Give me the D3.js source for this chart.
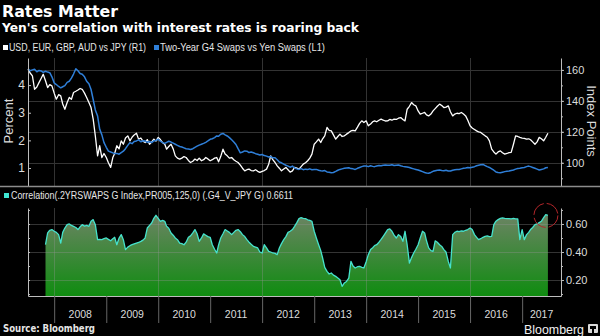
<!DOCTYPE html>
<html>
<head>
<meta charset="utf-8">
<script src="https://cdn.jsdelivr.net/npm/d3@7"></script>
<style>
  html, body { margin: 0; padding: 0; background: #000; }
  svg { display: block; }
</style>
</head>
<body>
<div id="chart"></div>
<script>
// observations are semi-monthly (1st and 16th), first one on 1 Jul 2007
const firstObs = [2007, 6]

// Two-Year G4 Swaps vs Yen Swaps, percent (L1)
const swapSpread = [
  4.59, 4.52, 4.55, 4.57, 4.48, 4.53, 4.51, 4.46, 4.50, 4.47,
  4.45, 4.30, 4.08, 4.02, 3.95, 3.90, 3.94, 3.98, 4.10, 4.14,
  4.25, 4.40, 4.59, 4.52, 4.42, 4.39, 4.30, 4.14, 4.05, 3.84,
  3.48, 3.10, 2.88, 2.40, 2.20, 1.92, 1.75, 1.61, 1.58, 1.55,
  1.52, 1.53, 1.50, 1.56, 1.61, 1.70, 1.82, 1.92, 1.88, 1.96,
  1.98, 2.02, 1.95, 1.99, 1.98, 1.93, 1.96, 1.92, 1.98, 2.00,
  2.04, 1.97, 1.92, 1.89, 1.93, 1.97, 1.94, 1.90, 1.86, 1.82,
  1.78, 1.76, 1.73, 1.70, 1.69, 1.67, 1.70, 1.75, 1.79, 1.83,
  1.86, 1.89, 1.93, 1.98, 2.04, 2.06, 2.10, 2.16, 2.15, 2.22,
  2.25, 2.20, 2.16, 2.10, 2.02, 1.94, 1.85, 1.70, 1.55, 1.58,
  1.62, 1.61, 1.56, 1.58, 1.55, 1.52, 1.50, 1.47, 1.49, 1.45,
  1.43, 1.40, 1.42, 1.37, 1.37, 1.30, 1.22, 1.19, 1.14, 1.10,
  1.07, 1.03, 1.07, 1.00, 0.97, 0.95, 0.98, 0.94, 0.96, 0.95,
  0.97, 0.94, 0.95, 0.95, 0.92, 0.90, 0.89, 0.91, 0.86, 0.85,
  0.83, 0.84, 0.88, 0.92, 0.95, 0.97, 0.99, 1.00, 1.01, 0.98,
  0.97, 0.95, 0.99, 1.02, 1.05, 1.07, 1.07, 1.05, 1.08, 1.06,
  1.05, 1.07, 1.09, 1.08, 1.10, 1.11, 1.10, 1.10, 1.12, 1.09,
  1.10, 1.11, 1.08, 1.06, 1.05, 1.04, 1.02, 0.99, 0.97, 0.95,
  0.93, 0.90, 0.87, 0.84, 0.82, 0.81, 0.84, 0.88, 0.90, 0.92,
  0.93, 0.91, 0.90, 0.92, 0.89, 0.89, 0.92, 0.94, 0.95, 0.95,
  0.97, 0.99, 1.00, 1.02, 1.01, 1.03, 1.05, 1.08, 1.10, 1.12,
  1.13, 1.09, 1.05, 1.02, 0.97, 0.92, 0.86, 0.84, 0.83, 0.85,
  0.87, 0.88, 0.89, 0.91, 0.93, 0.96, 0.98, 0.99, 1.01, 1.02,
  1.05, 1.07, 1.05, 1.02, 0.99, 0.96, 0.93, 0.95, 0.97, 1.01, 1.02
]

// USD, EUR, GBP, AUD vs JPY, index points (R1)
const yenBasket = [
  160.4, 158.0, 156.1, 147.5, 149.0, 151.8, 154.5, 157.2, 153.0, 148.6,
  150.5, 149.7, 145.0, 141.1, 144.0, 143.2, 138.0, 134.6, 139.0, 142.2,
  141.0, 145.4, 146.2, 147.0, 148.0, 147.5, 145.0, 142.2, 139.0, 135.7,
  128.2, 117.4, 104.5, 111.0, 103.4, 106.0, 103.4, 100.0, 97.0, 103.4,
  106.0, 111.0, 109.0, 114.2, 112.0, 116.0, 117.4, 114.2, 116.5, 118.0,
  119.1, 115.3, 116.0, 114.0, 113.1, 115.0, 112.0, 113.5, 115.3, 114.0,
  116.4, 115.0, 113.0, 112.0, 108.8, 110.5, 112.0, 109.0, 104.5, 103.0,
  102.4, 103.0, 104.0, 103.4, 101.5, 100.2, 101.0, 102.4, 101.5, 103.0,
  101.3, 102.0, 103.4, 102.5, 101.3, 102.0, 103.0, 103.4, 100.6, 104.0,
  108.8, 105.6, 104.5, 103.0, 103.4, 102.0, 101.0, 100.2, 98.5, 96.5,
  94.8, 95.5, 95.9, 95.0, 94.8, 95.5, 94.5, 93.8, 94.5, 95.0,
  95.9, 99.0, 104.5, 102.0, 100.2, 98.0, 96.5, 94.8, 96.0, 97.0,
  95.5, 94.0, 94.8, 97.0, 96.5, 95.9, 97.5, 99.1, 100.0, 101.3,
  103.0, 105.6, 112.0, 113.5, 115.3, 113.1, 115.5, 117.4, 122.8, 121.0,
  120.6, 118.0, 115.3, 117.0, 118.5, 117.0, 117.4, 118.5, 119.5, 120.6,
  121.0, 120.6, 123.0, 125.5, 127.1, 126.0, 127.1, 123.9, 125.0, 126.5,
  127.1, 126.5, 127.5, 128.2, 127.5, 127.0, 127.1, 128.0, 127.5, 128.2,
  128.0, 128.8, 129.2, 128.0, 127.1, 134.6, 136.5, 138.9, 137.5, 136.8,
  133.5, 131.4, 132.0, 132.5, 131.0, 130.3, 131.5, 133.5, 135.0, 136.5,
  137.9, 137.0, 135.7, 136.0, 136.8, 133.0, 130.3, 131.5, 132.0, 131.8,
  132.5, 131.5, 130.3, 127.5, 123.9, 122.5, 121.5, 120.6, 120.0, 119.6,
  118.5, 117.4, 116.5, 114.2, 108.8, 107.0, 105.6, 107.0, 107.7, 106.5,
  105.6, 106.0, 106.5, 106.7, 112.0, 117.4, 117.0, 116.4, 116.0, 115.8,
  115.3, 115.5, 114.9, 113.5, 112.0, 113.5, 116.4, 115.5, 114.2, 116.5, 119.1
]

// 125-day correlation, first full window at observation 8 (Nov 2007)
const correlStart = 8
const correlation = [
  0.452, 0.536,
  0.555, 0.560, 0.548, 0.540, 0.524, 0.464, 0.540, 0.571, 0.595, 0.600,
  0.590, 0.583, 0.575, 0.560, 0.580, 0.595, 0.585, 0.590, 0.583, 0.619,
  0.631, 0.595, 0.488, 0.490, 0.488, 0.495, 0.500, 0.490, 0.480, 0.495,
  0.505, 0.452, 0.500, 0.524, 0.488, 0.417, 0.435, 0.445, 0.452, 0.458,
  0.464, 0.468, 0.476, 0.485, 0.500, 0.571, 0.590, 0.607, 0.640, 0.662,
  0.640, 0.619, 0.625, 0.619, 0.583, 0.570, 0.536, 0.520, 0.500, 0.488,
  0.464, 0.460, 0.452, 0.470, 0.505, 0.515, 0.536, 0.560, 0.530, 0.476,
  0.500, 0.529, 0.520, 0.510, 0.505, 0.452, 0.420, 0.393, 0.450, 0.500,
  0.530, 0.560, 0.550, 0.540, 0.524, 0.540, 0.555, 0.560, 0.545, 0.524,
  0.510, 0.488, 0.470, 0.455, 0.440, 0.435, 0.429, 0.400, 0.393, 0.452,
  0.430, 0.405, 0.400, 0.393, 0.390, 0.381, 0.429, 0.460, 0.488, 0.510,
  0.540, 0.548, 0.560, 0.583, 0.610, 0.638, 0.645, 0.640, 0.638, 0.630,
  0.625, 0.619, 0.548, 0.500, 0.452, 0.410, 0.357, 0.290, 0.262, 0.243,
  0.250, 0.235, 0.226, 0.215, 0.202, 0.155, 0.179, 0.190, 0.214, 0.333,
  0.300, 0.286, 0.295, 0.298, 0.290, 0.286, 0.330, 0.381, 0.417, 0.430,
  0.445, 0.452, 0.470, 0.490, 0.512, 0.535, 0.560, 0.565, 0.548, 0.520,
  0.500, 0.524, 0.510, 0.476, 0.548, 0.452, 0.321, 0.360, 0.393, 0.420,
  0.452, 0.500, 0.548, 0.536, 0.480, 0.429, 0.410, 0.405, 0.480, 0.470,
  0.452, 0.440, 0.417, 0.400, 0.333, 0.286, 0.524, 0.540, 0.548, 0.545,
  0.550, 0.548, 0.555, 0.560, 0.571, 0.560, 0.524, 0.505, 0.488, 0.495,
  0.505, 0.512, 0.515, 0.510, 0.512, 0.595, 0.620, 0.631, 0.640, 0.643,
  0.640, 0.638, 0.638, 0.636, 0.640, 0.636, 0.636, 0.488, 0.560, 0.488,
  0.524, 0.540, 0.560, 0.575, 0.595, 0.600, 0.610, 0.619, 0.645, 0.667, 0.6611
]

const yearLabels = ['2008', '2009', '2010', '2011', '2012', '2013', '2014', '2015', '2016', '2017']
const percentTicks = [1, 2, 3, 4]
const indexTicks = [100, 120, 140, 160]
const correlTicks = [0.2, 0.4, 0.6]

const width = 600
const height = 336
const plot = { left: 28, right: 561 }
const upper = { y0: 58, y1: 186 }
const lower = { y0: 208, y1: 296 }

const obsDate = (i) =>
  new Date(Date.UTC(firstObs[0], firstObs[1] + Math.floor(i / 2), i % 2 ? 16 : 1))

const spreadData = swapSpread.map((v, i) => ({ date: obsDate(i), value: v }))
const basketData = yenBasket.map((v, i) => ({ date: obsDate(i), value: v }))
const correlData = correlation.map((v, i) => ({ date: obsDate(i + correlStart), value: v }))

const svg = d3
  .select('#chart')
  .append('svg')
  .attr('width', width)
  .attr('height', height)
  .style('background', '#000')

const sans = "'Liberation Sans', Arial, sans-serif"
const heavy = "'DejaVu Sans', Verdana, sans-serif"

const xScale = d3
  .scaleUtc()
  .domain([new Date(Date.UTC(2007, 6, 1)), new Date(Date.UTC(2017, 9, 1))])
  .range([plot.left, plot.right])

const yPct = d3.scaleLinear().domain([0.35, 4.98]).range([upper.y1, upper.y0])
const yIdx = d3.scaleLinear().domain([85, 167.7]).range([upper.y1, upper.y0])
const yCor = d3.scaleLinear().domain([0.086, 0.714]).range([lower.y1, lower.y0])

const gridYears = d3.utcYear.every(2).range(new Date(Date.UTC(2008, 0, 1)), new Date(Date.UTC(2017, 0, 1)))

// ---- header ----
svg.append('text')
  .attr('x', 2).attr('y', 17)
  .attr('fill', '#fff')
  .attr('font-family', heavy).attr('font-weight', 'bold').attr('font-size', 16)
  .attr('textLength', 116).attr('lengthAdjust', 'spacingAndGlyphs')
  .text('Rates Matter')

svg.append('text')
  .attr('x', 2).attr('y', 32)
  .attr('fill', '#fff')
  .attr('font-family', heavy).attr('font-weight', 'bold').attr('font-size', 12.5)
  .attr('textLength', 357).attr('lengthAdjust', 'spacingAndGlyphs')
  .text("Yen's correlation with interest rates is roaring back")

const legend = [
  { color: '#ffffff', x: 3, label: 'USD, EUR, GBP, AUD vs JPY (R1)', len: 137 },
  { color: '#2f7fd8', x: 154, label: 'Two-Year G4 Swaps vs Yen Swaps (L1)', len: 165 }
]
const legendG = svg.append('g')
legendG.selectAll('rect')
  .data(legend)
  .join('rect')
  .attr('x', (d) => d.x).attr('y', 45)
  .attr('width', 5).attr('height', 5)
  .attr('fill', (d) => d.color)
legendG.selectAll('text')
  .data(legend)
  .join('text')
  .attr('x', (d) => d.x + 6).attr('y', 51)
  .attr('fill', '#e6e6e6')
  .attr('font-family', sans).attr('font-size', 10)
  .attr('textLength', (d) => d.len).attr('lengthAdjust', 'spacingAndGlyphs')
  .text((d) => d.label)

// ---- grid lines ----
const grid = svg.append('g').attr('stroke', '#333').attr('stroke-width', 1)
grid.selectAll('line.h')
  .data(indexTicks)
  .join('line')
  .attr('class', 'h')
  .attr('x1', plot.left).attr('x2', plot.right)
  .attr('y1', (d) => Math.round(yIdx(d)) + 0.5).attr('y2', (d) => Math.round(yIdx(d)) + 0.5)
grid.selectAll('line.v')
  .data(gridYears)
  .join('line')
  .attr('class', 'v')
  .attr('x1', (d) => Math.round(xScale(d)) + 0.5).attr('x2', (d) => Math.round(xScale(d)) + 0.5)
  .attr('y1', upper.y0).attr('y2', upper.y1)

// ---- top panel lines ----
const lineIdx = d3.line().x((d) => xScale(d.date)).y((d) => yIdx(d.value))
const linePct = d3.line().x((d) => xScale(d.date)).y((d) => yPct(d.value))

svg.append('path')
  .attr('d', lineIdx(basketData))
  .attr('fill', 'none')
  .attr('stroke', '#ffffff')
  .attr('stroke-width', 1.3)
  .attr('stroke-linejoin', 'round')

svg.append('path')
  .attr('d', linePct(spreadData))
  .attr('fill', 'none')
  .attr('stroke', '#2f7fd8')
  .attr('stroke-width', 1.5)
  .attr('stroke-linejoin', 'round')

// ---- top panel axes ----
function styleAxis(g, size) {
  g.attr('font-family', sans).attr('font-size', size)
  g.select('.domain').attr('stroke', '#bdbdbd')
  g.selectAll('.tick line').attr('stroke', '#bdbdbd')
  g.selectAll('.tick text').attr('fill', '#dcdcdc')
}

svg.append('g')
  .attr('transform', `translate(${plot.left}, 0)`)
  .call(d3.axisLeft(yPct).tickValues(percentTicks).tickFormat(d3.format('d'))
    .tickSizeInner(-3).tickSizeOuter(0).tickPadding(3))
  .call((g) => styleAxis(g, 12))

svg.append('g')
  .attr('transform', `translate(${plot.right}, 0)`)
  .call(d3.axisRight(yIdx).tickValues(d3.range(90, 170, 10)).tickFormat('')
    .tickSizeInner(2).tickSizeOuter(0))
  .call((g) => styleAxis(g, 11))

svg.append('g')
  .attr('transform', `translate(${plot.right}, 0)`)
  .call(d3.axisRight(yIdx).tickValues(indexTicks).tickSizeInner(3).tickSizeOuter(0).tickPadding(2))
  .call((g) => styleAxis(g, 11))
  .call((g) => g.select('.domain').remove())

svg.append('text')
  .attr('transform', 'translate(13, 121) rotate(-90)')
  .attr('text-anchor', 'middle')
  .attr('fill', '#dcdcdc')
  .attr('font-family', sans).attr('font-size', 13)
  .text('Percent')

svg.append('text')
  .attr('transform', 'translate(587, 121) rotate(90)')
  .attr('text-anchor', 'middle')
  .attr('fill', '#dcdcdc')
  .attr('font-family', sans).attr('font-size', 13)
  .text('Index Points')

// panel separator
svg.append('line')
  .attr('x1', 0).attr('x2', width)
  .attr('y1', upper.y1 + 0.5).attr('y2', upper.y1 + 0.5)
  .attr('stroke', '#8c8c8c').attr('stroke-width', 1.5)

// ---- bottom panel ----
svg.append('rect')
  .attr('x', 4).attr('y', 193)
  .attr('width', 5).attr('height', 5)
  .attr('fill', '#3fe6d2')
svg.append('text')
  .attr('x', 11).attr('y', 199)
  .attr('fill', '#e6e6e6')
  .attr('font-family', sans).attr('font-size', 10)
  .attr('textLength', 282).attr('lengthAdjust', 'spacingAndGlyphs')
  .text('Correlation(.2YRSWAPS G Index,PR005,125,0) (.G4_V_JPY G) 0.6611')

const defs = svg.append('defs')
const grad = defs.append('linearGradient')
  .attr('id', 'corrFill')
  .attr('gradientUnits', 'userSpaceOnUse')
  .attr('x1', 0).attr('x2', 0)
  .attr('y1', lower.y0).attr('y2', lower.y1)
grad.append('stop').attr('offset', '0%').attr('stop-color', '#73836a')
grad.append('stop').attr('offset', '100%').attr('stop-color', '#0f8c10')

const area = d3.area()
  .x((d) => xScale(d.date))
  .y0(lower.y1)
  .y1((d) => yCor(d.value))

svg.append('path')
  .attr('d', area(correlData))
  .attr('fill', 'url(#corrFill)')

const corrGrid = svg.append('g').attr('stroke', 'rgba(150,150,150,0.35)').attr('stroke-width', 1)
corrGrid.selectAll('line.h')
  .data(correlTicks)
  .join('line')
  .attr('class', 'h')
  .attr('x1', plot.left).attr('x2', plot.right)
  .attr('y1', (d) => Math.round(yCor(d)) + 0.5).attr('y2', (d) => Math.round(yCor(d)) + 0.5)
corrGrid.selectAll('line.v')
  .data(gridYears)
  .join('line')
  .attr('class', 'v')
  .attr('x1', (d) => Math.round(xScale(d)) + 0.5).attr('x2', (d) => Math.round(xScale(d)) + 0.5)
  .attr('y1', lower.y0).attr('y2', lower.y1)

svg.append('path')
  .attr('d', d3.line().x((d) => xScale(d.date)).y((d) => yCor(d.value))(correlData))
  .attr('fill', 'none')
  .attr('stroke', '#46e3cc')
  .attr('stroke-width', 1.3)
  .attr('stroke-linejoin', 'round')

// ring around the latest reading
const last = correlData[correlData.length - 1]
svg.append('circle')
  .attr('cx', xScale(last.date) - 2)
  .attr('cy', yCor(last.value))
  .attr('r', 12)
  .attr('fill', 'none')
  .attr('stroke', '#b3262a')
  .attr('stroke-width', 1)
  .attr('stroke-dasharray', '16 3')

svg.append('g')
  .attr('transform', `translate(${plot.left}, 0)`)
  .call(d3.axisLeft(yCor).tickValues(d3.range(0.1, 0.71, 0.1)).tickFormat('')
    .tickSizeInner(-2).tickSizeOuter(0))
  .call((g) => styleAxis(g, 11))

svg.append('g')
  .attr('transform', `translate(${plot.right}, 0)`)
  .call(d3.axisRight(yCor).tickValues(d3.range(0.1, 0.71, 0.1)).tickFormat('')
    .tickSizeInner(2).tickSizeOuter(0))
  .call((g) => styleAxis(g, 11))

svg.append('g')
  .attr('transform', `translate(${plot.right}, 0)`)
  .call(d3.axisRight(yCor).tickValues(correlTicks).tickFormat(d3.format('.2f'))
    .tickSizeInner(3).tickSizeOuter(0).tickPadding(2))
  .call((g) => styleAxis(g, 11))
  .call((g) => g.select('.domain').remove())

// ---- time axis ----
svg.append('g')
  .attr('transform', `translate(0, ${lower.y1})`)
  .call(d3.axisBottom(xScale).ticks(d3.utcYear.every(1)).tickFormat('')
    .tickSizeInner(27).tickSizeOuter(0))
  .call((g) => styleAxis(g, 11))
  .call((g) => g.selectAll('.tick line').attr('stroke', '#666'))

const xEnd = xScale.domain()[1]
svg.append('g')
  .selectAll('text')
  .data(yearLabels)
  .join('text')
  .attr('x', (d) => {
    const a = new Date(Date.UTC(+d, 0, 1))
    const b = new Date(Math.min(Date.UTC(+d + 1, 0, 1), +xEnd))
    return (xScale(a) + xScale(b)) / 2
  })
  .attr('y', 318)
  .attr('text-anchor', 'middle')
  .attr('fill', '#dcdcdc')
  .attr('font-family', sans).attr('font-size', 10.5)
  .text((d) => d)

// ---- footer ----
svg.append('text')
  .attr('x', 3).attr('y', 332)
  .attr('fill', '#e6e6e6')
  .attr('font-family', heavy).attr('font-weight', 'bold').attr('font-size', 10.5)
  .attr('textLength', 92).attr('lengthAdjust', 'spacingAndGlyphs')
  .text('Source: Bloomberg')

svg.append('text')
  .attr('x', 524).attr('y', 334)
  .attr('fill', '#f2f2f2')
  .attr('font-family', sans).attr('font-size', 12.5)
  .attr('textLength', 60).attr('lengthAdjust', 'spacingAndGlyphs')
  .text('Bloomberg')

const logo = svg.append('g').attr('transform', 'translate(588, 324)')
logo.append('rect')
  .attr('width', 10).attr('height', 9).attr('rx', 1)
  .attr('fill', '#d9d9d9')
logo.append('rect')
  .attr('x', 2).attr('y', 2).attr('width', 6).attr('height', 3)
  .attr('fill', '#000')
logo.append('rect')
  .attr('x', 4).attr('y', 5).attr('width', 2).attr('height', 4)
  .attr('fill', '#000')
</script>
</body>
</html>
